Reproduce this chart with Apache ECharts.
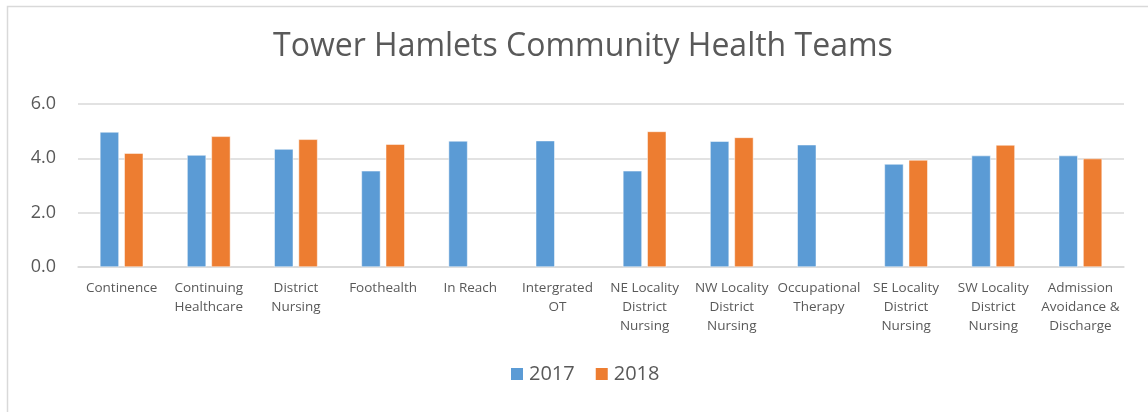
<!DOCTYPE html>
<html><head><meta charset="utf-8">
<script src="https://cdn.jsdelivr.net/npm/echarts@6/dist/echarts.min.js"></script>
<style>html,body{margin:0;padding:0;background:#fff}#c{width:1148px;height:412px}</style>
</head><body><div id="c"></div>
<script>
const categories = ["Continence","Continuing\nHealthcare","District\nNursing","Foothealth","In Reach","Intergrated\nOT","NE Locality\nDistrict\nNursing","NW Locality\nDistrict\nNursing","Occupational\nTherapy","SE Locality\nDistrict\nNursing","SW Locality\nDistrict\nNursing","Admission\nAvoidance &\nDischarge"];
const values2017 = [4.97,4.12,4.34,3.54,4.64,4.65,3.54,4.63,4.50,3.79,4.10,4.10];
const values2018 = [4.19,4.81,4.70,4.52,null,null,4.99,4.77,null,3.94,4.49,3.99];
const yTicks = [0,2,4,6];
const FONT = "Open Sans";
const chart = echarts.init(document.getElementById('c'), null, {renderer:'canvas'});
chart.setOption({
  animation:false,
  backgroundColor:'#fff',
  title:{text:'Tower Hamlets Community Health Teams',left:268,top:26,
    textStyle:{fontFamily:FONT,fontSize:32,fontWeight:'normal',color:'#595959'}},
  legend:{bottom:23,left:504,itemWidth:14,itemHeight:14,itemGap:19,icon:'rect',
    textStyle:{fontFamily:FONT,fontSize:20,color:'#595959'},data:['2017','2018']},
  grid:{left:78,right:24,top:104,bottom:145,containLabel:false},
  xAxis:{type:'category',data:categories,
    axisLine:{lineStyle:{color:'#d9d9d9',width:1.5}},axisTick:{show:false},
    axisLabel:{interval:0,fontFamily:FONT,fontSize:13.5,color:'#595959',lineHeight:19,margin:12}},
  yAxis:{type:'value',min:yTicks[0],max:yTicks[yTicks.length-1],interval:2,
    axisLine:{show:false},axisTick:{show:false},
    splitLine:{lineStyle:{color:'#d9d9d9',width:1.5}},
    axisLabel:{fontFamily:FONT,fontSize:18,color:'#595959',margin:22,formatter:v=>v.toFixed(1)}},
  series:[
    {name:'2017',type:'bar',data:values2017,barWidth:19,barGap:'28%',
      itemStyle:{color:'#5b9bd5',borderColor:'#fff',borderWidth:0.5}},
    {name:'2018',type:'bar',data:values2018,barWidth:19,
      itemStyle:{color:'#ed7d31',borderColor:'#fff',borderWidth:0.5}}
  ],
  graphic:[{type:'rect',shape:{x:7.5,y:6.5,width:1200,height:500},
    style:{fill:'none',stroke:'#d9d9d9',lineWidth:1.5},silent:true}]
});
</script></body></html>
